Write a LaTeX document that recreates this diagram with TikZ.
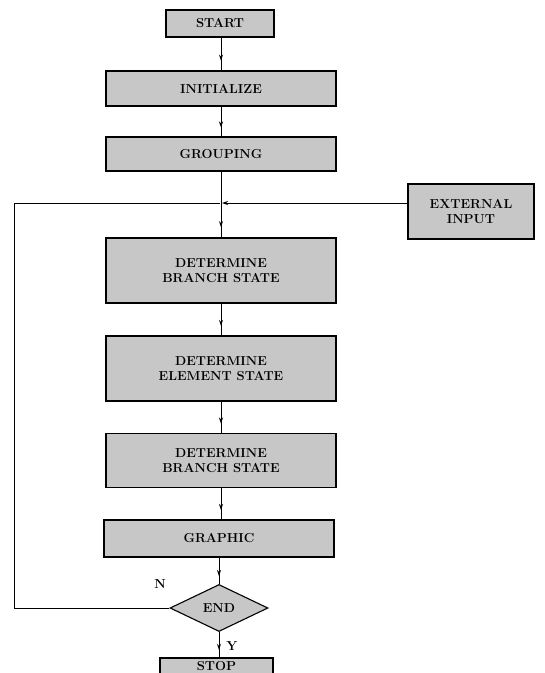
\documentclass[tikz,border=0pt]{standalone}
\usepackage{fontspec}
\usetikzlibrary{arrows.meta,shapes.geometric,decorations.markings}
\begin{document}
\begin{tikzpicture}[x=1pt,y=-1pt,
  proc/.style={draw=black,line width=1.1pt,fill=black!22,minimum width=230pt,
    align=center,inner sep=2pt,font=\fontsize{13}{15}\selectfont\bfseries},
  dec/.style={diamond,draw=black,line width=1.1pt,fill=black!22,aspect=2.1,
    minimum width=98pt,minimum height=47pt,inner sep=0pt,font=\fontsize{13}{15}\selectfont\bfseries},
  conn/.style={line width=0.9pt},
  midarrow/.style={conn,postaction={decorate},decoration={markings,
    mark=at position 0.7 with {\arrow{Stealth[length=6pt,width=4pt]}}}},
  endarrow/.style={conn,-{Stealth[length=6pt,width=4pt]}},
  lab/.style={font=\fontsize{13}{15}\selectfont\bfseries}]
\useasboundingbox (0,0) rectangle (545,673);
\clip (0,0) rectangle (545,673);
\node[proc,minimum width=108pt,minimum height=27pt] (start) at (220,23.5) {START};
\node[proc,minimum height=35pt] (init) at (221,88.5) {INITIALIZE};
\node[proc,minimum height=34pt] (group) at (221,154) {GROUPING};
\node[proc,minimum width=126pt,minimum height=55pt] (ext) at (471,211.5) {EXTERNAL\\INPUT};
\node[proc,minimum height=65pt] (dbs1) at (221,270.5) {DETERMINE\\BRANCH STATE};
\node[proc,minimum height=65pt] (des) at (221,368.5) {DETERMINE\\ELEMENT STATE};
\node[proc,minimum height=54pt] (dbs2) at (221,460.5) {DETERMINE\\BRANCH STATE};
\node[proc,minimum height=37pt] (graphic) at (219,538.5) {GRAPHIC};
\node[dec] (end) at (219,608) {END};
\node[proc,minimum width=113pt,minimum height=17pt,inner sep=1pt] (stop) at (216.5,666.5) {STOP};
\coordinate (j) at (221,203);
\coordinate (lc) at (14,203);
\coordinate (lb) at (14,608);
\node[lab] (nlab) at (160,584) {N};
\node[lab] (ylab) at (232,646) {Y};
\draw[midarrow] (start.south -| init.north) -- (init.north);
\draw[midarrow] (init) -- (group);
\draw[conn] (group.south) -- (j);
\draw[midarrow] (j) -- (dbs1.north);
\draw[midarrow] (dbs1) -- (des);
\draw[midarrow] (des) -- (dbs2);
\draw[midarrow] (dbs2.south) -- (dbs2.south |- graphic.north);
\draw[midarrow] (graphic.south -| end.north) -- (end.north);
\draw[midarrow] (end.south) -- (end.south |- stop.north);
\draw[conn] (end.west) -- (lb) -- (lc) -- ([xshift=-1pt]j);
\draw[endarrow] (ext.west |- j) -- ([xshift=1pt]j);
\end{tikzpicture}
\end{document}
